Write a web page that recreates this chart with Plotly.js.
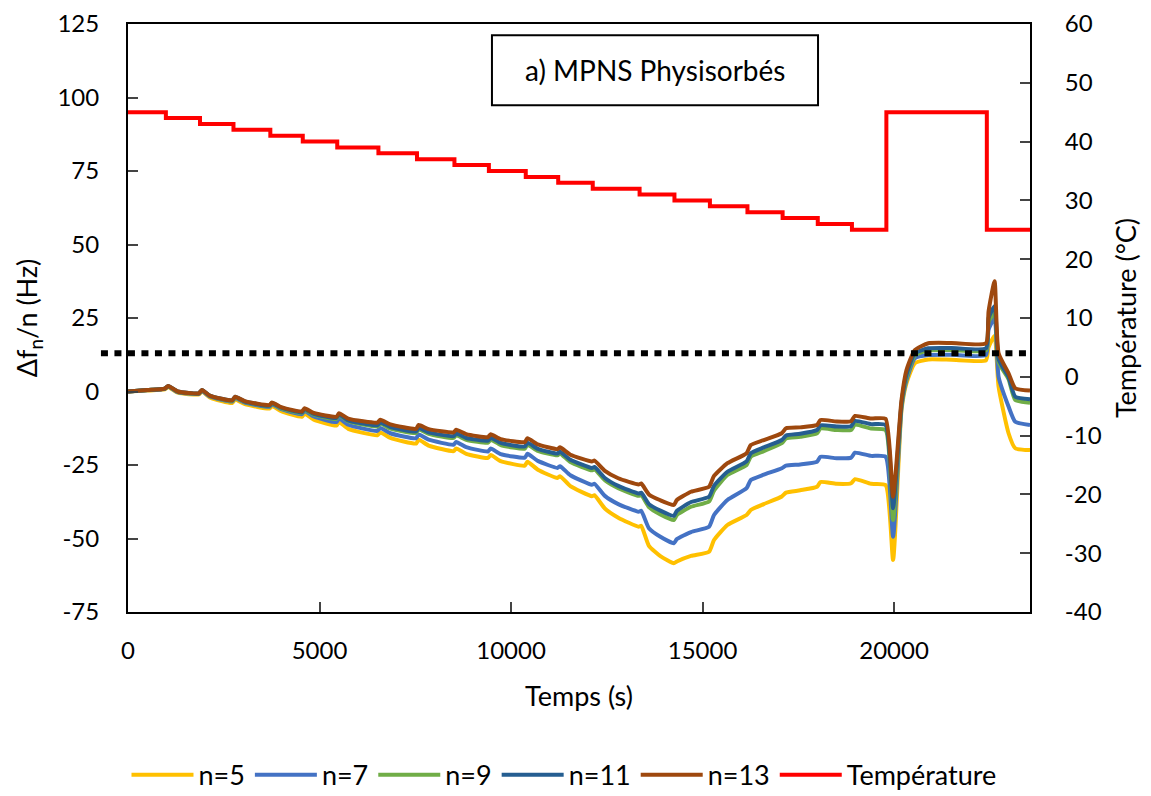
<!DOCTYPE html>
<html>
<head>
<meta charset="utf-8">
<script src="https://cdn.plot.ly/plotly-3.0.1.min.js"></script>
<style>html,body{margin:0;padding:0;background:#fff;}#chart{width:1151px;height:796px;}</style>
</head>
<body>
<div id="chart"></div>
<script>
// Time (s) sampling points shared by the frequency series
var time = [0,500,960,1050,1300,1850,1930,2150,2720,2800,3050,3690,3760,4000,4540,4610,4850,5440,5510,5750,
  6510,6590,6850,7520,7590,7850,8500,8570,8830,9400,9470,9730,10360,10430,10700,11210,11280,11550,12110,12180,
  12450,12800,13330,13400,13600,13900,14250,14330,14700,15170,15300,15650,16150,16260,16600,17070,17180,17550,17990,18080,
  18500,18880,18980,19400,19780,19975,20195,20325,20543,20895,21500,22400,22468,22625,22730,22990,23165,23550];

var n13 = [0,0.5,1.0,1.9,0.0,-0.6,0.5,-1.5,-3.0,-1.8,-3.3,-4.6,-3.7,-5.3,-6.8,-5.7,-7.3,-8.6,-7.4,-9.2,
  -10.6,-9.6,-11.2,-12.7,-11.4,-12.8,-13.9,-13.0,-14.5,-15.5,-14.5,-16.2,-17.2,-15.9,-18.0,-19.6,-19.0,-21.5,-23.8,-23.5,
  -27.0,-29.5,-31.6,-31.3,-35.0,-37.0,-38.6,-36.9,-34.1,-32.4,-28.7,-24.4,-21.0,-18.2,-16.5,-14.2,-12.5,-12.2,-11.4,-9.7,
  -10.2,-10.1,-8.3,-9.2,-9.3,-35.8,-2.9,7.3,14.1,16.4,16.5,16.4,27.2,37.5,13.0,6.2,1.1,0.3];

var n11 = [0,0.5,1.0,1.9,0.0,-0.6,0.5,-1.5,-3.0,-1.8,-3.4,-4.8,-3.9,-5.5,-7.1,-6.0,-7.6,-9.0,-7.8,-9.8,
  -11.5,-10.5,-12.1,-13.6,-12.3,-13.9,-15.2,-14.3,-15.8,-16.7,-15.7,-17.5,-18.7,-17.4,-19.5,-21.1,-20.5,-23.2,-26.0,-25.7,
  -29.4,-32.1,-34.7,-34.4,-38.3,-40.5,-42.3,-40.6,-37.6,-35.8,-32.1,-27.3,-23.8,-21.0,-19.0,-16.5,-15.0,-14.4,-13.1,-11.5,
  -11.9,-11.8,-10.0,-11.1,-11.4,-39.7,-4.0,5.8,13.0,14.7,14.8,14.7,25.0,29.0,11.0,4.9,-1.8,-2.6];

var n9 = [0,0.5,1.0,1.8,-0.1,-0.7,0.4,-1.6,-3.2,-2.0,-3.5,-4.9,-4.0,-5.7,-7.3,-6.2,-7.9,-9.3,-8.1,-10.1,
  -11.9,-10.9,-12.6,-14.1,-12.8,-14.4,-15.8,-14.9,-16.4,-17.4,-16.4,-18.2,-19.4,-18.1,-20.2,-21.7,-21.1,-24.0,-26.8,-26.5,
  -30.2,-32.9,-35.5,-35.2,-39.3,-41.8,-43.7,-42.0,-39.2,-37.4,-33.7,-28.4,-25.0,-22.2,-20.3,-17.6,-16.0,-15.4,-14.2,-12.6,
  -13.1,-13.1,-11.3,-12.6,-13.1,-43.7,-4.8,4.8,12.3,14.0,14.1,14.0,23.5,27.0,10.0,4.2,-2.9,-3.8];

var n7 = [0,0.4,0.9,1.7,-0.2,-0.8,0.2,-1.8,-3.4,-2.2,-3.8,-5.2,-4.3,-6.0,-7.7,-6.6,-8.5,-10.4,-9.2,-11.3,
  -13.4,-12.4,-14.2,-15.9,-14.6,-16.4,-18.1,-17.2,-18.9,-20.4,-19.4,-21.3,-22.5,-21.2,-23.6,-26.0,-25.4,-28.5,-31.7,-31.4,
  -35.5,-38.3,-40.9,-40.6,-46.5,-49.4,-51.6,-50.2,-47.8,-46.0,-42.0,-36.9,-32.9,-30.1,-28.3,-26.1,-25.2,-24.8,-23.9,-22.2,
  -22.7,-22.5,-20.8,-21.9,-22.2,-49.4,-5.5,3.8,11.3,12.4,12.5,12.4,21.0,25.0,5.0,-5.1,-10.3,-11.4];

var n5 = [0,0.3,0.7,1.5,-0.4,-1.0,0.0,-2.1,-3.9,-2.7,-4.3,-5.8,-4.9,-6.7,-8.6,-7.5,-9.6,-11.6,-10.4,-12.7,
  -14.9,-13.9,-15.8,-17.7,-16.4,-18.4,-20.3,-19.4,-21.2,-22.6,-21.6,-23.7,-25.2,-23.9,-26.6,-29.4,-28.8,-32.2,-35.6,-35.3,
  -39.8,-42.9,-46.0,-45.7,-52.5,-56.0,-58.4,-57.8,-55.9,-54.5,-50.5,-45.4,-42.0,-40.3,-38.3,-35.7,-34.4,-33.6,-32.4,-30.8,
  -31.4,-31.2,-29.8,-31.4,-31.8,-57.3,-6.3,2.8,9.6,10.9,10.8,10.6,15.0,19.0,1.6,-14.2,-19.3,-19.9];

// Temperature steps (°C), held until next time
var tempTime = [0,989,1880,2754,3716,4563,5463,6538,7545,8523,9422,10385,11232,12134,13357,14267,15193,16173,17091,18009,18901,19800,22423,23550];
var tempVal  = [45,44,43,42,41,40,39,38,37,36,35,34,33,32,31,30,29,28,27,26,25,45,25,25];

// Tick labels
var xTickVals = [0,5000,10000,15000,20000];
var xTickText = ["0","5000","10000","15000","20000"];
var yTickVals = [-75,-50,-25,0,25,50,75,100,125];
var yTickText = ["-75","-50","-25","0","25","50","75","100","125"];
var y2TickVals = [-40,-30,-20,-10,0,10,20,30,40,50,60];
var y2TickText = ["-40","-30","-20","-10","0","10","20","30","40","50","60"];

var seriesNames = ["n=5","n=7","n=9","n=11","n=13"];
var seriesData = [n5, n7, n9, n11, n13];
var seriesColors = ["#FFC000","#4472C4","#70AD47","#255E91","#9E480E"];

var traces = [];
for (var i = 0; i < seriesNames.length; i++) {
  traces.push({x: time, y: seriesData[i], name: seriesNames[i], type: "scatter", mode: "lines",
    line: {color: seriesColors[i], width: 4, shape: "spline", smoothing: 0.5}, yaxis: "y"});
}
traces.push({x: tempTime, y: tempVal, name: "Température", type: "scatter", mode: "lines",
  line: {color: "#FF0000", width: 4, shape: "hv"}, yaxis: "y2"});

var fontFam = "Lato, 'Open Sans', sans-serif";
var layout = {
  width: 1151, height: 796,
  margin: {l: 128, r: 121, t: 24, b: 184, autoexpand: false},
  paper_bgcolor: "#fff", plot_bgcolor: "#fff",
  font: {family: fontFam, size: 24, color: "#000"},
  showlegend: true,
  legend: {orientation: "h", xref: "container", yref: "container", x: 0.49, xanchor: "center",
    y: 0.026, yanchor: "middle", font: {size: 27, family: fontFam}, traceorder: "normal",
    itemwidth: 62},
  xaxis: {range: [0, 23550], tickmode: "array", tickvals: xTickVals, ticktext: xTickText,
    ticks: "inside", ticklen: 10, tickwidth: 2, automargin: false,
    showline: true, linecolor: "#000", linewidth: 2, mirror: true, showgrid: false, zeroline: false,
    tickfont: {size: 24}, ticklabelstandoff: 16,
    title: {text: "Temps (s)", font: {size: 27}, standoff: 24}},
  yaxis: {range: [-75, 125], tickmode: "array", tickvals: yTickVals, ticktext: yTickText,
    ticks: "inside", ticklen: 10, tickwidth: 2, automargin: false,
    showline: true, linecolor: "#000", linewidth: 2, showgrid: false, zeroline: false,
    tickfont: {size: 24}, ticklabelstandoff: 22,
    title: {text: "Δf<sub>n</sub>/n (Hz)", font: {size: 27}, standoff: 12}},
  yaxis2: {range: [-40, 60], tickmode: "array", tickvals: y2TickVals, ticktext: y2TickText,
    overlaying: "y", side: "right", ticks: "inside", automargin: false,
    ticklen: 10, tickwidth: 2, showline: true, linecolor: "#000", linewidth: 2, showgrid: false, zeroline: false,
    tickfont: {size: 24}, ticklabelstandoff: 28,
    title: {text: "Température (°C)", font: {size: 27}, standoff: 16}},
  shapes: [
    {type: "line", xref: "paper", yref: "y", x0: -0.03, x1: 1.0, y0: 13, y1: 13,
      line: {color: "#000", width: 6, dash: "7px,6.5px"}},
    {type: "rect", xref: "paper", yref: "paper", x0: 0.4035, x1: 0.765, y0: 0.862, y1: 0.981,
      line: {color: "#000", width: 2}, fillcolor: "#fff"}
  ],
  annotations: [
    {xref: "paper", yref: "paper", x: 0.584, y: 0.922, text: "a) MPNS Physisorbés", showarrow: false,
      font: {size: 28, family: fontFam}, xanchor: "center", yanchor: "middle"}
  ]
};

Plotly.newPlot("chart", traces, layout, {displayModeBar: false, staticPlot: true});
</script>
</body>
</html>
